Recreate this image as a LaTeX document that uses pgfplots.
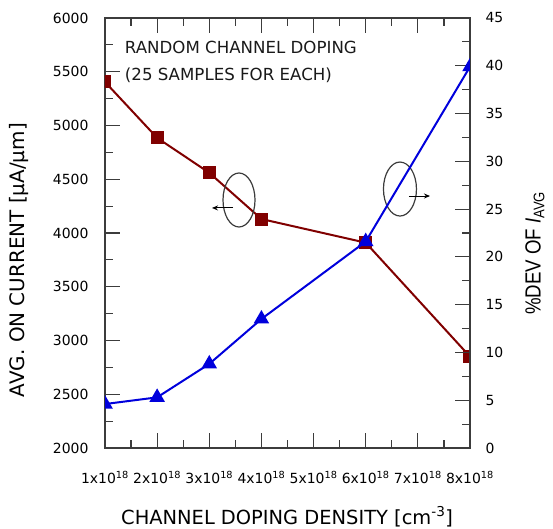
\documentclass[border=0pt]{standalone}
\usepackage{fontspec}
\setmainfont{DejaVu Sans}
\newfontfamily\narrowfont{Liberation Sans}[FakeStretch=0.85]
\usepackage{pgfplots}
\pgfplotsset{compat=1.18}
\usetikzlibrary{arrows.meta}
\definecolor{darkred}{RGB}{128,0,0}
\definecolor{myblue}{RGB}{0,0,220}
\definecolor{framegray}{RGB}{60,60,60}

\tikzset{tk/.style={draw=framegray, line width=1.2pt}}
\pgfplotsset{
  common/.style={
    scale only axis, width=365bp, height=430bp,
    at={(0bp,0bp)}, anchor=south west,
    xmin=1, xmax=8,
    major tick length=15pt, minor tick length=8pt,
    tick style={color=framegray, line width=1.2pt},
    tick label style={font=\fontsize{14}{16}\selectfont},
    yticklabel style={/pgf/number format/1000 sep={}},
    clip marker paths=true,
  },
}

\begin{document}
\begin{tikzpicture}
\begin{axis}[common,
  axis line style={framegray, line width=1.4pt},
  ymin=2000, ymax=6000, ytick={2000,2500,...,6000}, minor y tick num=1,
  xtick={1,...,8}, minor x tick num=1,
  xtick pos=both, ytick pos=left,
  xticklabel pos=bottom, yticklabel pos=left,
  xticklabels={1x10\textsuperscript{18},2x10\textsuperscript{18},3x10\textsuperscript{18},4x10\textsuperscript{18},5x10\textsuperscript{18},6x10\textsuperscript{18},7x10\textsuperscript{18},8x10\textsuperscript{18}},
  xticklabel style={yshift=-20bp},
  yticklabel style={xshift=-13bp, /pgf/number format/assume math mode=true},
  xlabel={CHANNEL DOPING DENSITY [cm\textsuperscript{-3}]},
  xlabel style={font=\fontsize{19.5}{22}\selectfont, at={(axis description cs:0.499,-0.16)}, anchor=center},
  ylabel={AVG. ON CURRENT [μA/μm]},
  ylabel style={font=\fontsize{20}{22}\selectfont, at={(axis description cs:-0.236,0.437)}, anchor=center},
]
% tick marks drawn by hand (inside the frame)
\pgfplotsinvokeforeach{2000,2500,3000,3500,4000,4500,5000,5500,6000}{\draw[tk] (axis cs:1,#1) -- ++(15pt,0pt);}
\pgfplotsinvokeforeach{2250,2750,3250,3750,4250,4750,5250,5750}{\draw[tk] (axis cs:1,#1) -- ++(8pt,0pt);}
\pgfplotsinvokeforeach{1,2,3,4,5,6,7,8}{\draw[tk] (axis cs:#1,2000) -- ++(0pt,15pt); \draw[tk] (axis cs:#1,6000) -- ++(0pt,-15pt);}
\pgfplotsinvokeforeach{1.5,2.5,3.5,4.5,5.5,6.5,7.5}{\draw[tk] (axis cs:#1,2000) -- ++(0pt,8pt); \draw[tk] (axis cs:#1,6000) -- ++(0pt,-8pt);}

\addplot[darkred, line width=2bp, mark=square*, mark size=5.5bp, mark options={solid}]
  coordinates {(1,5405) (2,4885) (3,4560) (4,4130) (6,3910) (8,2850)};

\node[anchor=base west, font=\fontsize{16.7}{19}\selectfont, text=black!90]
  at (axis description cs:0.045,0.9186) {RANDOM CHANNEL DOPING};
\node[anchor=base west, font=\fontsize{16.7}{19}\selectfont, text=black!90]
  at (axis description cs:0.045,0.8558) {(25 SAMPLES FOR EACH)};

\draw[framegray, line width=1.2bp] (axis cs:3.57,4307) ellipse [x radius=16bp, y radius=27bp];
\draw[black, line width=1bp, -{Stealth[length=6bp,width=5bp]}] (axis cs:3.455,4233) -- (axis cs:3.052,4233);
\draw[framegray, line width=1.2bp] (axis cs:6.657,4409) ellipse [x radius=16.5bp, y radius=27bp];
\draw[black, line width=1bp, -{Stealth[length=6bp,width=5bp]}] (axis cs:6.83,4344) -- (axis cs:7.233,4344);
\end{axis}

\begin{axis}[common,
  axis x line=none, axis y line*=right,
  y axis line style={framegray, line width=1.4pt},
  ymin=0, ymax=45, ytick={0,5,...,45}, minor y tick num=1,
  ytick align=inside,
  yticklabel style={xshift=12bp, /pgf/number format/assume math mode=true},
  ylabel={\narrowfont\%DEV OF \textit{I}\textsubscript{AVG}},
  ylabel style={font=\fontsize{22}{24}\selectfont, at={(axis description cs:1.178,0.453)}, anchor=center},
]
\pgfplotsinvokeforeach{0,5,10,15,20,25,30,35,40,45}{\draw[tk] (axis cs:8,#1) -- ++(-15pt,0pt);}
\pgfplotsinvokeforeach{2.5,7.5,12.5,17.5,22.5,27.5,32.5,37.5,42.5}{\draw[tk] (axis cs:8,#1) -- ++(-8pt,0pt);}
\addplot[myblue, line width=2bp, mark=triangle*, mark size=7bp, mark options={solid}]
  coordinates {(1,4.6) (2,5.3) (3,8.8) (4,13.5) (6,21.6) (8,39.9)};
\end{axis}

\pgfresetboundingbox
\path[use as bounding box] (-105bp,-81bp) rectangle (448bp,448bp);
\end{tikzpicture}
\end{document}
